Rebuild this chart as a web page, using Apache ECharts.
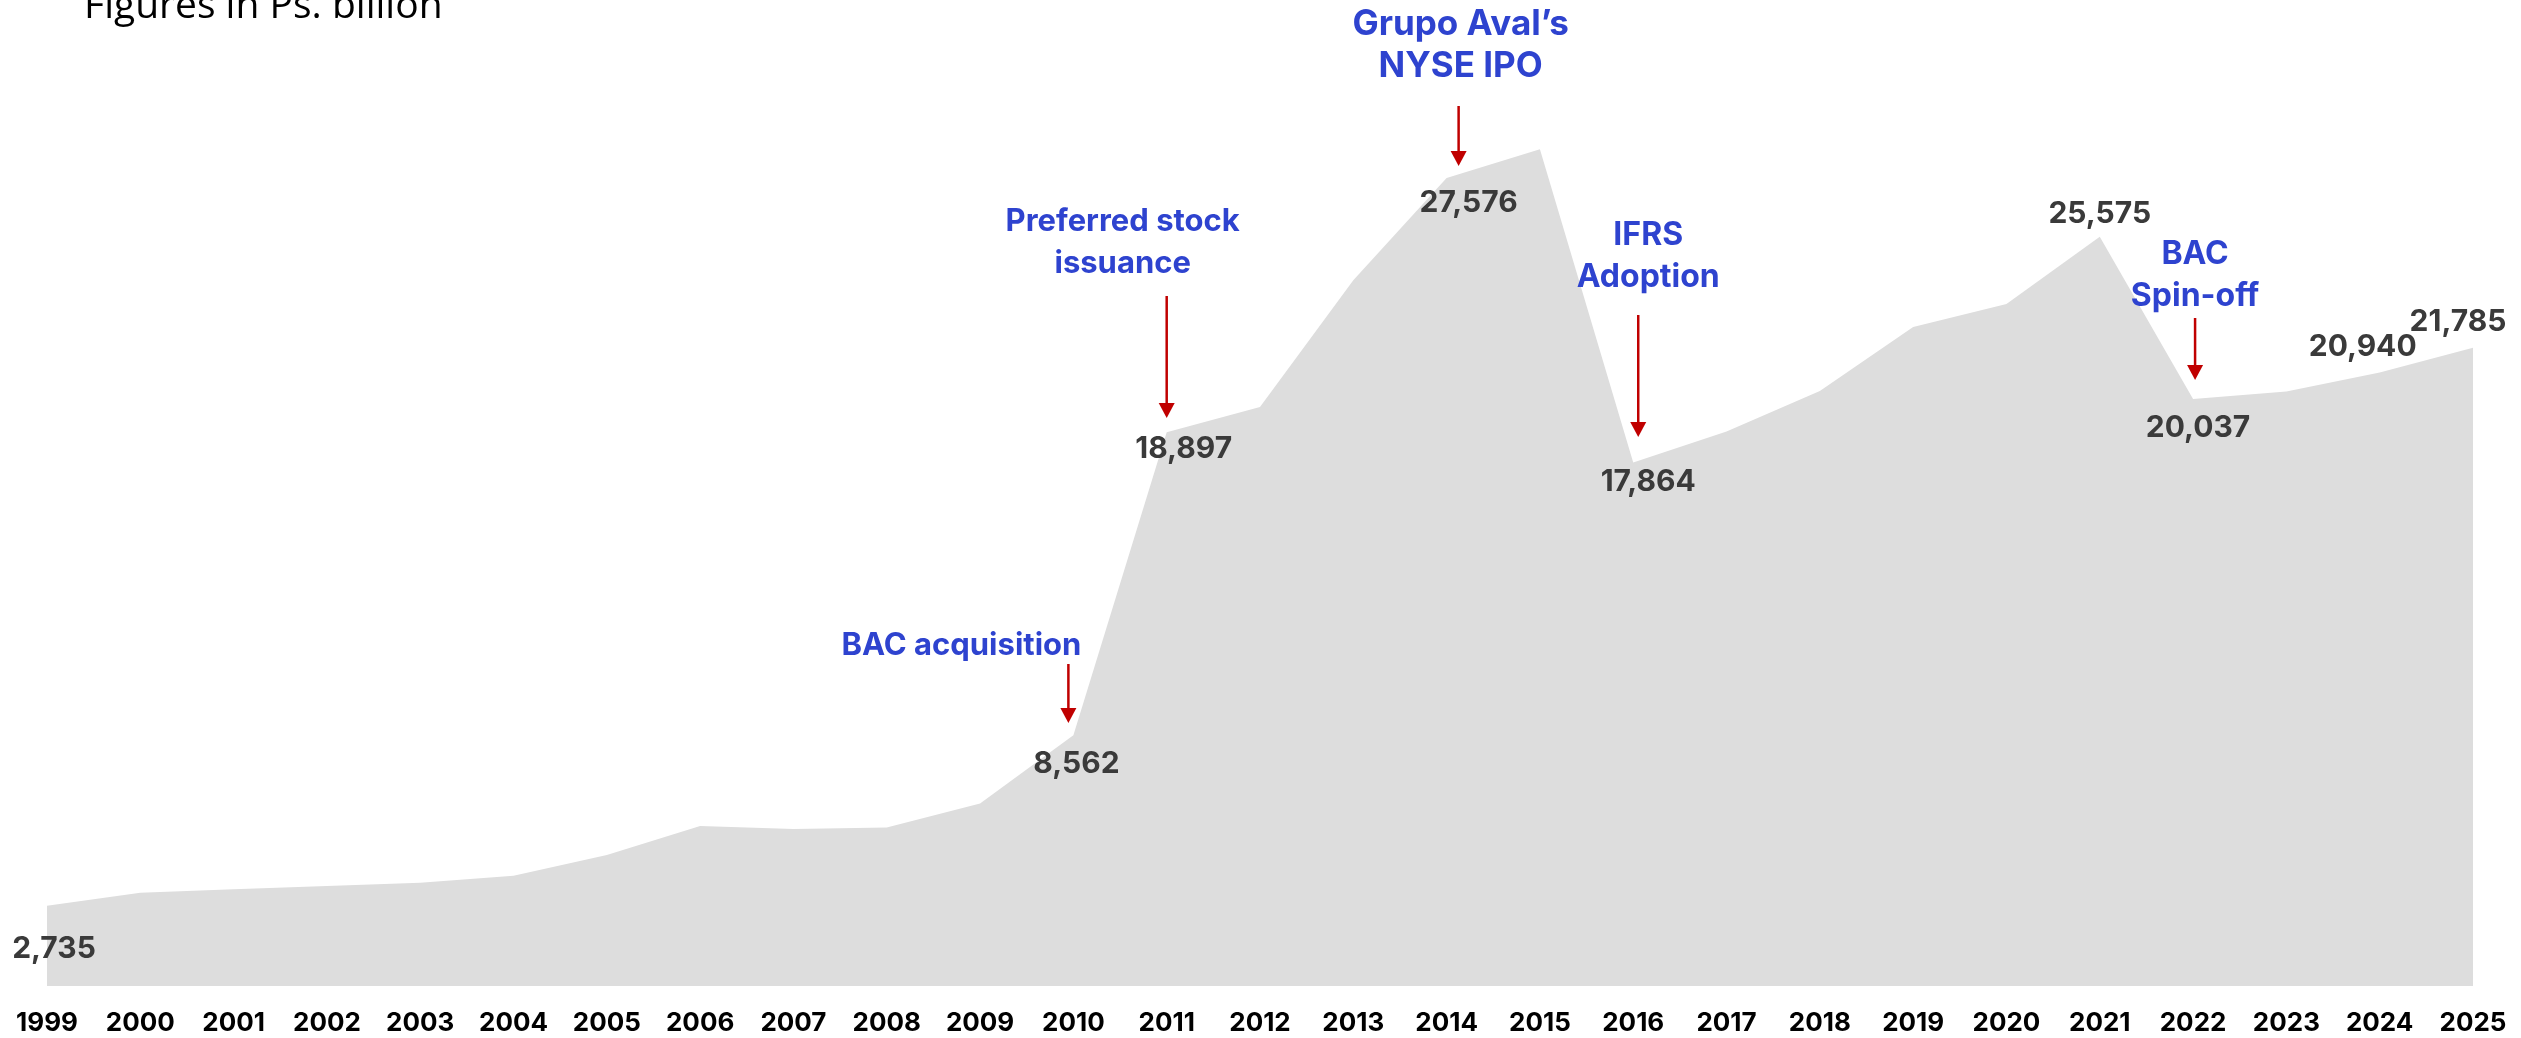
<!DOCTYPE html>
<html lang="en">
<head>
    <meta charset="UTF-8">
    <title>Equity Ps. billion</title>
    <script src="https://cdn.jsdelivr.net/npm/echarts@6/dist/echarts.min.js"></script>
    <style>
        html, body { margin: 0; padding: 0; background: #ffffff; }
        #main { width: 2521px; height: 1038px; }
    </style>
</head>
<body>
<div id="main"></div>
<script>
    // data
    var years = ['1999','2000','2001','2002','2003','2004','2005','2006','2007','2008','2009','2010','2011',
        '2012','2013','2014','2015','2016','2017','2018','2019','2020','2021','2022','2023','2024','2025'];
    var equity = [2735, 3184, 3300, 3410, 3525, 3764, 4469, 5458, 5355, 5412, 6231, 8562, 18897,
        19757, 24091, 27576, 28562, 17864, 18923, 20304, 22491, 23273, 25575, 20037, 20292, 20940, 21785];
    var labelledYears = ['1999','2010','2011','2014','2016','2021','2022','2024','2025'];
    var eventYears = ['2010','2011','2014','2016','2022'];
    var eventTexts = ['BAC acquisition', 'Preferred stock\nissuance', 'Grupo Aval\u2019s\nNYSE IPO', 'IFRS\nAdoption', 'BAC\nSpin-off'];

    // label placement (offset from the point, px)
    var labelOffset = {
        '1999': [7, 43], '2010': [3, 29], '2011': [17, 17], '2014': [22, 25], '2016': [15, 19],
        '2021': [0, -23], '2022': [5, 29], '2024': [-17, -25], '2025': [-15, -26]
    };
    // text centre (dx from year, y), font size and arrow (dx, top, tip) for each event, px
    var eventLayout = {
        '2010': {textDx: -112, textY: 646, size: 31, dx: -5, top: 664, tip: 723},
        '2011': {textDx: -44, textY: 243, size: 31, dx: 0, top: 296, tip: 418},
        '2014': {textDx: 14, textY: 45, size: 35, dx: 12, top: 106, tip: 166},
        '2016': {textDx: 15, textY: 256, size: 32, dx: 5, top: 315, tip: 437},
        '2022': {textDx: 2, textY: 275, size: 32, dx: 2, top: 318, tip: 380}
    };

    var blue = '#2E43CF';
    var red = '#C00000';

    var seriesData = equity.map(function (v, i) {
        var y = years[i];
        if (labelledYears.indexOf(y) < 0) return v;
        return {
            value: v,
            label: {show: true, position: 'inside', offset: labelOffset[y]}
        };
    });

    var myChart = echarts.init(document.getElementById('main'));
    var option = {
        backgroundColor: '#ffffff',
        animation: false,
        grid: {left: 47, right: 48, top: 107, bottom: 52},
        xAxis: {
            type: 'category',
            data: years,
            boundaryGap: false,
            axisLine: {show: false},
            axisTick: {show: false},
            axisLabel: {
                margin: 24,
                color: '#000000',
                fontFamily: 'Inter',
                fontWeight: 'bold',
                fontSize: 26,
                interval: 0
            }
        },
        yAxis: {
            type: 'value',
            min: 0,
            max: 30000,
            show: false,
            splitLine: {show: false}
        },
        series: [{
            type: 'line',
            data: seriesData,
            symbol: 'circle',
            symbolSize: 1,
            itemStyle: {color: 'rgba(0,0,0,0)'},
            lineStyle: {width: 0},
            areaStyle: {color: '#DDDDDD', opacity: 1},
            label: {
                show: false,
                color: '#3A3A3A',
                fontFamily: 'Inter',
                fontWeight: 'bold',
                fontSize: 30,
                formatter: function (p) {
                    return p.value.toLocaleString('en-US');
                }
            }
        }]
    };
    myChart.setOption(option);

    // title and event annotations
    var graphics = [{
        type: 'text',
        left: 84,
        top: -13,
        z: 100,
        style: {
            text: 'Figures in Ps. billion',
            fill: '#000000',
            font: '39px "Open Sans"'
        }
    }];
    eventYears.forEach(function (y, k) {
        var x = myChart.convertToPixel({xAxisIndex: 0}, y);
        var L = eventLayout[y];
        graphics.push({
            type: 'text',
            x: x + L.textDx,
            y: L.textY,
            z: 100,
            style: {
                text: eventTexts[k],
                fill: blue,
                font: 'bold ' + L.size + 'px Inter',
                lineHeight: 42,
                align: 'center',
                verticalAlign: 'middle'
            }
        });
        var ax = x + L.dx;
        graphics.push({
            type: 'line',
            z: 100,
            shape: {x1: ax, y1: L.top, x2: ax, y2: L.tip - 12},
            style: {stroke: red, lineWidth: 2.5}
        });
        graphics.push({
            type: 'polygon',
            z: 100,
            shape: {points: [[ax - 8, L.tip - 15], [ax + 8, L.tip - 15], [ax, L.tip]]},
            style: {fill: red}
        });
    });
    myChart.setOption({graphic: graphics});
</script>
</body>
</html>
